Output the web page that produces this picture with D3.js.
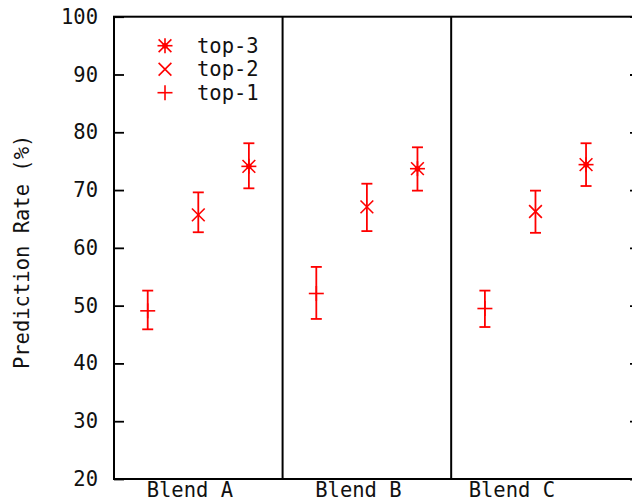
<!DOCTYPE html>
<html>
<head>
<meta charset="utf-8">
<script src="https://cdn.jsdelivr.net/npm/d3@7"></script>
<style>
  body { margin: 0; background: #fff; }
  svg { display: block; }
</style>
</head>
<body>
<div id="chart"></div>
<script>
// Datos
const blends = ["Blend A", "Blend B", "Blend C"];
const blendPos = [1, 2, 3];
const labelPos = [0.95, 1.95, 2.86];
const separators = [1.5, 2.5];
const series = ["top-1", "top-2", "top-3"];
const seriesOffset = [-0.3, 0, 0.3];

const top1 = [49.1, 52.1, 49.5];
const top1Low = [45.9, 47.7, 46.3];
const top1High = [52.6, 56.7, 52.6];

const top2 = [65.7, 67.1, 66.3];
const top2Low = [62.7, 62.9, 62.6];
const top2High = [69.6, 71.1, 69.9];

const top3 = [74.1, 73.7, 74.4];
const top3Low = [70.3, 69.9, 70.7];
const top3High = [78.1, 77.4, 78.1];

const yTicks = [20, 30, 40, 50, 60, 70, 80, 90, 100];

const WIDTH = 632, HEIGHT = 502;
const FONT = "'DejaVu Sans Mono', monospace";
const RED = "#ff0000";

const svg = d3.select("#chart").append("svg")
    .attr("width", WIDTH)
    .attr("height", HEIGHT);

const x = d3.scaleLinear().domain([0.5, 3.62]).range([114, 640]);
const y = d3.scaleLinear().domain([20, 100]).range([479, 16.7]);

// Construir registros para las barras de error
const rows = [];
[[top1, top1Low, top1High], [top2, top2Low, top2High], [top3, top3Low, top3High]].forEach((s, si) => {
    blends.forEach((b, bi) => {
        rows.push({
            series: si,
            x: blendPos[bi] + seriesOffset[si],
            v: s[0][bi], lo: s[1][bi], hi: s[2][bi]
        });
    });
});

// Ejes y ticks
const yAxisL = d3.axisLeft(y).tickValues(yTicks).tickSizeInner(-10).tickSizeOuter(0).tickPadding(16);
const gL = svg.append("g").attr("transform", `translate(${x(0.5)},0)`).call(yAxisL);
gL.select(".domain").remove();
gL.selectAll(".tick line").attr("stroke", "#000").attr("stroke-width", 1.8);
gL.selectAll(".tick text")
    .attr("font-family", FONT).attr("font-size", "20.5px").attr("fill", "#111");

const yAxisR = d3.axisRight(y).tickValues(yTicks).tickSizeInner(-10).tickSizeOuter(0).tickFormat("");
const gR = svg.append("g").attr("transform", `translate(${x(3.62)},0)`).call(yAxisR);
gR.select(".domain").remove();
gR.selectAll(".tick line").attr("stroke", "#000").attr("stroke-width", 1.8);

// Borde del gráfico
svg.append("rect")
    .attr("x", x(0.5)).attr("y", y(100))
    .attr("width", x(3.62) - x(0.5)).attr("height", y(20) - y(100))
    .attr("fill", "none").attr("stroke", "#000").attr("stroke-width", 2);

// Separadores entre blends
svg.selectAll(".sep").data(separators).enter().append("line")
    .attr("x1", d => x(d)).attr("x2", d => x(d))
    .attr("y1", y(100)).attr("y2", y(20))
    .attr("stroke", "#000").attr("stroke-width", 2);

// Etiquetas del eje x
svg.selectAll(".xlab").data(blends).enter().append("text")
    .attr("x", (d, i) => x(labelPos[i]))
    .attr("y", 497)
    .attr("text-anchor", "middle")
    .attr("font-family", FONT).attr("font-size", "20.5px").attr("fill", "#111")
    .text(d => d);

// Título del eje y
svg.append("text")
    .attr("transform", `translate(29, ${(y(20) + y(100)) / 2 + 4}) rotate(-90)`)
    .attr("text-anchor", "middle")
    .attr("font-family", FONT).attr("font-size", "20.5px").attr("fill", "#111")
    .text("Prediction Rate (%)");

// Dibujar marcadores tipo gnuplot
const S = 7.5;
function drawMarker(g, type, cx, cy) {
    const lines = [];
    if (type === 0 || type === 2) {
        lines.push([cx - S, cy, cx + S, cy], [cx, cy - S, cx, cy + S]);
    }
    if (type === 1 || type === 2) {
        const d = S * 0.85;
        lines.push([cx - d, cy - d, cx + d, cy + d], [cx - d, cy + d, cx + d, cy - d]);
    }
    lines.forEach(l => g.append("line")
        .attr("x1", l[0]).attr("y1", l[1]).attr("x2", l[2]).attr("y2", l[3])
        .attr("stroke", RED).attr("stroke-width", 1.6));
    if (type === 2) {
        g.append("circle").attr("cx", cx).attr("cy", cy).attr("r", 2.8).attr("fill", RED);
    }
}

// Barras de error
const CAP = 5.5;
const eg = svg.append("g");
rows.forEach(r => {
    const cx = x(r.x);
    eg.append("line").attr("x1", cx).attr("x2", cx).attr("y1", y(r.lo)).attr("y2", y(r.hi))
        .attr("stroke", RED).attr("stroke-width", 1.8);
    [r.lo, r.hi].forEach(v => eg.append("line")
        .attr("x1", cx - CAP).attr("x2", cx + CAP).attr("y1", y(v)).attr("y2", y(v))
        .attr("stroke", RED).attr("stroke-width", 1.8));
    drawMarker(eg, r.series, cx, y(r.v));
});

// Leyenda
const legendOrder = [2, 1, 0];
const lg = svg.append("g");
legendOrder.forEach((si, i) => {
    const ly = 45.7 + i * 23.5;
    drawMarker(lg, si, 165, ly);
    lg.append("text")
        .attr("x", 197).attr("y", ly + 7)
        .attr("font-family", FONT).attr("font-size", "20.5px").attr("fill", "#111")
        .text(series[si]);
});
</script>
</body>
</html>
